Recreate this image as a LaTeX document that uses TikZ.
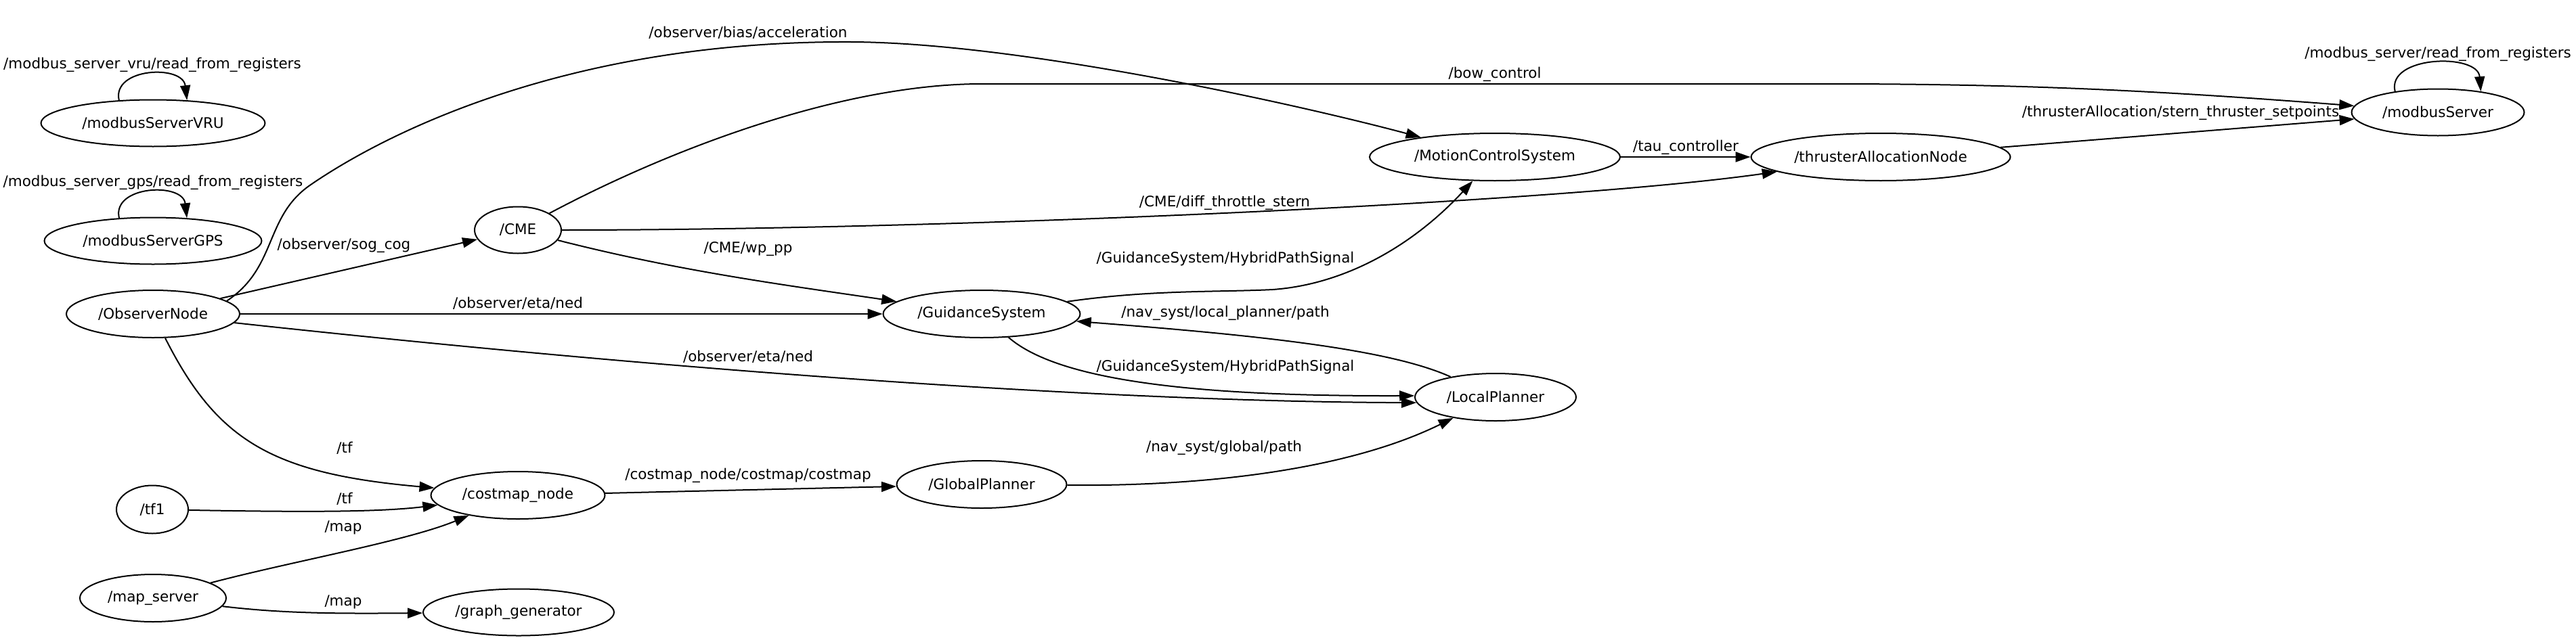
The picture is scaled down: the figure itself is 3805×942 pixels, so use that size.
\documentclass[tikz,border=0pt]{standalone}
\usepackage{fontspec}
\setmainfont{DejaVu Sans}
\usetikzlibrary{arrows.meta,shapes.geometric}
\tikzset{
  rosnode/.style={draw, ellipse, line width=1pt, inner sep=0pt, font=\fontsize{10.75}{13}\selectfont},
  topic/.style={inner sep=0pt, font=\fontsize{10.75}{13}\selectfont},
  edge/.style={line width=1pt, -{Triangle[length=11pt,width=7.5pt]}},
}
\begin{document}
\begin{tikzpicture}[x=0.5pt,y=-0.5pt]
\useasboundingbox (0,0) rectangle (3805,942);
% nodes
\node[rosnode, minimum width=165.5pt, minimum height=34.5pt] (vru) at (226,182) {/modbusServerVRU};
\node[rosnode, minimum width=160.5pt, minimum height=34.5pt] (gps) at (226,356) {/modbusServerGPS};
\node[rosnode, minimum width=128pt, minimum height=35pt] (obs) at (226,464) {/ObserverNode};
\node[rosnode, minimum width=53pt, minimum height=35.5pt] (tf1) at (225,753) {/tf1};
\node[rosnode, minimum width=108pt, minimum height=35pt] (mapsrv) at (226,884) {/map\_server};
\node[rosnode, minimum width=64pt, minimum height=34.5pt] (cme) at (765,340) {/CME};
\node[rosnode, minimum width=128.5pt, minimum height=35pt] (costmap) at (765,732) {/costmap\_node};
\node[rosnode, minimum width=141pt, minimum height=34.5pt] (graphgen) at (766,905) {/graph\_generator};
\node[rosnode, minimum width=145.5pt, minimum height=35pt] (gs) at (1450,464) {/GuidanceSystem};
\node[rosnode, minimum width=125.5pt, minimum height=35pt] (gp) at (1450,716) {/GlobalPlanner};
\node[rosnode, minimum width=185pt, minimum height=35pt] (mcs) at (2208,232) {/MotionControlSystem};
\node[rosnode, minimum width=119pt, minimum height=35pt] (lp) at (2209,587) {/LocalPlanner};
\node[rosnode, minimum width=191.5pt, minimum height=35pt] (tan) at (2778,232) {/thrusterAllocationNode};
\node[rosnode, minimum width=127.5pt, minimum height=34.5pt] (ms) at (3601,166) {/modbusServer};
% edges
\draw[edge] (vru.146) .. controls (165,100) and (270,95) .. (vru.34);
\draw[edge] (gps.146) .. controls (165,274) and (270,269) .. (gps.34);
\draw[edge] (ms.154) .. controls (3525,82) and (3660,78) .. (ms.26);
\draw[edge] (obs) -- (cme);
\draw[edge] (obs) -- (gs);
\draw[edge] (mcs) -- (tan);
\draw[edge] (costmap) -- (gp);
\draw[edge] (tan) -- (ms);
\draw[edge] (obs.10) .. controls (410,395) and (390,320) .. (459,273) .. controls (580,190) and (850,60) .. (1257,62) .. controls (1500,63) and (1900,150) .. (mcs);
\draw[edge] (cme) .. controls (1000,215) and (1250,124) .. (1450,124) -- (2700,124) .. controls (3000,124) and (3200,135) .. (ms);
\draw[edge] (cme) .. controls (1400,340) and (2300,300) .. (tan);
\draw[edge] (cme) .. controls (1000,400) and (1150,420) .. (gs);
\draw[edge] (gs) .. controls (1700,428) and (1800,432) .. (1880,428) .. controls (1990,420) and (2090,360) .. (mcs);
\draw[edge] (lp) .. controls (2050,515) and (1850,495) .. (gs);
\draw[edge] (gs) .. controls (1560,560) and (1750,586) .. (lp.179);
\draw[edge] (obs) .. controls (1100,559) and (1700,594) .. (lp.184);
\draw[edge] (obs) .. controls (320,650) and (400,700) .. (costmap);
\draw[edge] (tf1) .. controls (450,757) and (560,757) .. (costmap);
\draw[edge] (mapsrv) .. controls (430,830) and (600,800) .. (costmap);
\draw[edge] (mapsrv) .. controls (420,907) and (500,907) .. (graphgen);
\draw[edge] (gp) .. controls (1800,719) and (2000,690) .. (lp);
% labels
\node[topic] (l1) at (225,96) {/modbus\_server\_vru/read\_from\_registers};
\node[topic] (l2) at (226,270) {/modbus\_server\_gps/read\_from\_registers};
\node[topic] (l3) at (3601,80) {/modbus\_server/read\_from\_registers};
\node[topic] (l4) at (508,363) {/observer/sog\_cog};
\node[topic] (l5) at (765,448) {/observer/eta/ned};
\node[topic] (l6) at (1105,527) {/observer/eta/ned};
\node[topic] (l7) at (1105,48) {/observer/bias/acceleration};
\node[topic] (l8) at (2208,110) {/bow\_control};
\node[topic] (l9) at (1809,300) {/CME/diff\_throttle\_stern};
\node[topic] (l10) at (1105,368) {/CME/wp\_pp};
\node[topic] (l11) at (1810,383) {/GuidanceSystem/HybridPathSignal};
\node[topic] (l12) at (1810,463) {/nav\_syst/local\_planner/path};
\node[topic] (l13) at (1810,543) {/GuidanceSystem/HybridPathSignal};
\node[topic] (l14) at (509,662) {/tf};
\node[topic] (l15) at (509,737) {/tf};
\node[topic] (l16) at (507,780) {/map};
\node[topic] (l17) at (507,890) {/map};
\node[topic] (l18) at (1105,703) {/costmap\_node/costmap/costmap};
\node[topic] (l19) at (1808,662) {/nav\_syst/global/path};
\node[topic] (l20) at (2490,218) {/tau\_controller};
\node[topic] (l21) at (3221,167) {/thrusterAllocation/stern\_thruster\_setpoints};
\end{tikzpicture}
\end{document}
